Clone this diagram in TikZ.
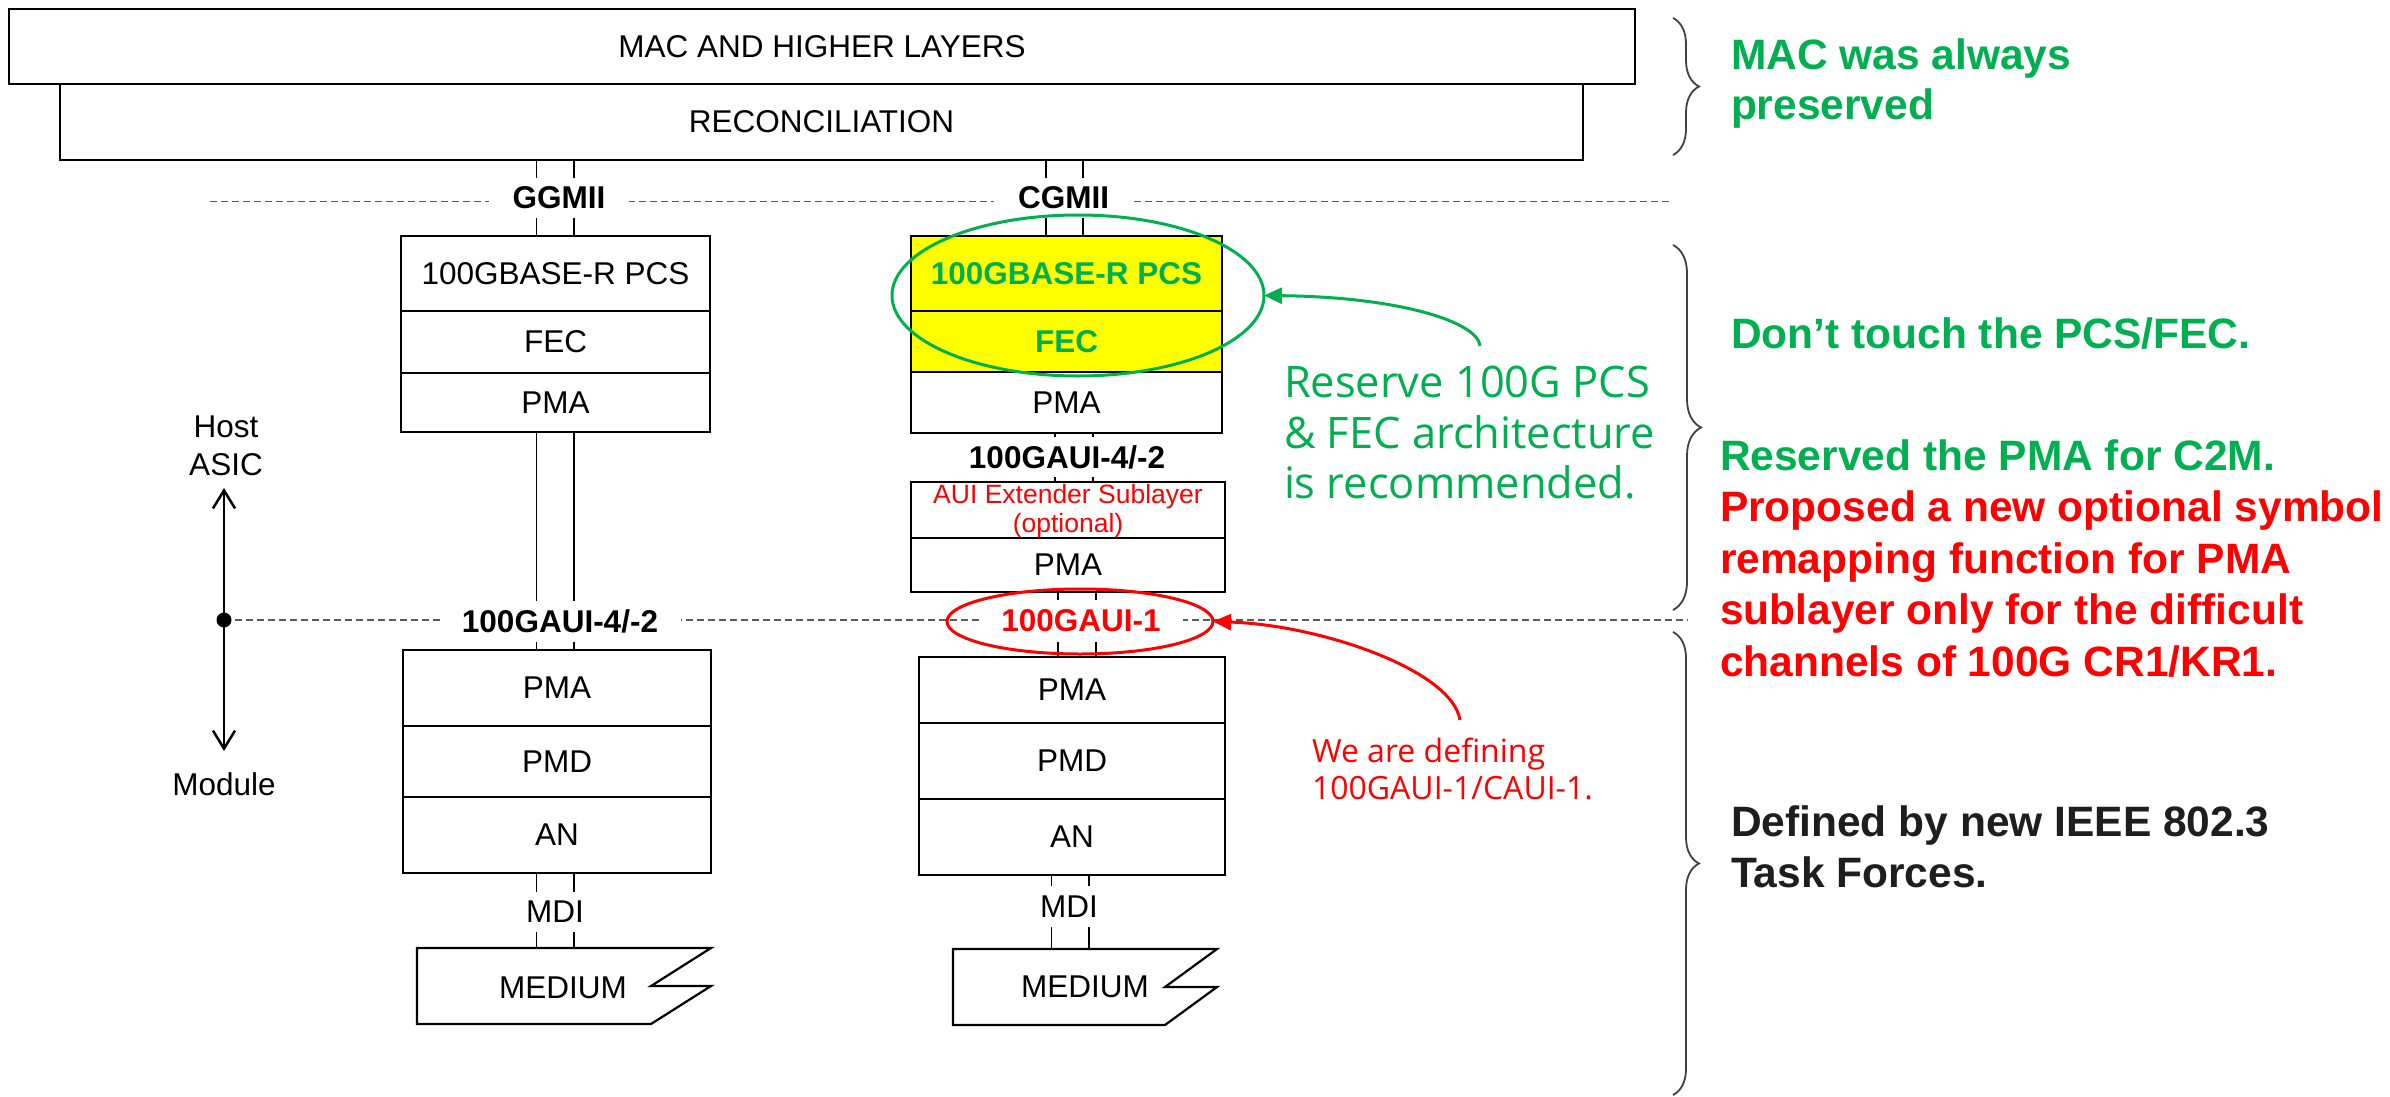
\documentclass[tikz,border=0pt]{standalone}
\usepackage{fontspec}
\setmainfont{Liberation Sans}
\newfontfamily\segfont{Open Sans}
\usetikzlibrary{shapes.geometric,arrows.meta,decorations.pathreplacing}
\definecolor{okgreen}{HTML}{00B050}
\definecolor{okred}{HTML}{FF0000}
\definecolor{hilite}{HTML}{FFFF00}
\definecolor{dashgray}{HTML}{5A5A5A}
\definecolor{bracegray}{HTML}{404040}
\definecolor{darktext}{HTML}{1E1E1E}
\newcommand{\lyrfont}{\fontsize{31.5}{36}\selectfont}
\newcommand{\auifont}{\fontsize{26.5}{30}\selectfont}
\newcommand{\annfont}{\segfont\fontsize{43.4}{50}\selectfont}
\newcommand{\redannfont}{\segfont\fontsize{32}{37}\selectfont}
\newcommand{\sidefont}{\fontsize{42.5}{51}\selectfont\bfseries}
\begin{document}
\begin{tikzpicture}[x=1pt,y=-1pt,
  every node/.style={inner sep=0pt, outer sep=0pt},
  layer/.style={draw=black, line width=2.2pt, fill=white, font=\lyrfont},
  hlayer/.style={layer, fill=hilite, text=okgreen, font=\lyrfont\bfseries},
  ifc/.style={fill=white, font=\lyrfont\bfseries},
  ifcreg/.style={fill=white, font=\lyrfont},
  conn/.style={line width=1.8pt, black},
  dashline/.style={line width=1.5pt, dashgray, dash pattern=on 7pt off 4pt},
  medium/.style={line width=2.2pt, fill=white, line join=miter},
  sidetext/.style={font=\sidefont, anchor=base west},
  sidebrace/.style={bracegray, line width=1.8pt, decorate},
  callout/.style={line width=3pt, -{Triangle[length=18pt,width=16pt]}}
]
\useasboundingbox (0,0) rectangle (2390,1097);
\fill[white] (0,0) rectangle (2390,1097);

% interface levels
\coordinate (ifaA) at (210,201.5);
\coordinate (ifaB) at (1672,201.5);
\coordinate (hdot) at (224,620);
\coordinate (ifbB) at (1688,620);
\draw[dashline] (ifaA) -- (ifaB);
\draw[dashline] (hdot) -- (ifbB);

% x positions of the paired service lines
\coordinate (lxa) at (536.5,0);
\coordinate (lxb) at (574,0);
\coordinate (rxa) at (1046,0);
\coordinate (rxb) at (1083,0);
\coordinate (rxc) at (1055,0);
\coordinate (rxd) at (1093,0);
\coordinate (rxe) at (1058,0);
\coordinate (rxf) at (1096,0);
\coordinate (rxg) at (1051.5,0);
\coordinate (rxh) at (1089,0);
\coordinate (lmedtop) at (563,948);
\coordinate (rmedtop) at (1085,949);

% top layers
\node[layer, minimum width=1626pt, minimum height=75pt] (mac) at (822,46.5) {MAC AND HIGHER LAYERS};
\node[layer, minimum width=1523pt, minimum height=76pt] (recon) at (821.5,122) {RECONCILIATION};

% service lines
\draw[conn] (lxa |- recon.south) -- (lxa |- lmedtop);
\draw[conn] (lxb |- recon.south) -- (lxb |- lmedtop);

% left stack
\node[layer, minimum width=309pt, minimum height=75pt] (lpcs) at (555.5,273.5) {100GBASE-R PCS};
\node[layer, minimum width=309pt, minimum height=62pt] (lfec) at (555.5,342) {FEC};
\node[layer, minimum width=309pt, minimum height=59pt] (lpma) at (555.5,402.5) {PMA};
\node[layer, minimum width=308pt, minimum height=76pt] (lpma2) at (557,688) {PMA};
\node[layer, minimum width=308pt, minimum height=71pt] (lpmd) at (557,761.5) {PMD};
\node[layer, minimum width=308pt, minimum height=76pt] (lan) at (557,835) {AN};
\draw[medium] (417,948) -- (711,948) -- (651,986) -- (711,986) -- (651,1024) -- (417,1024) -- cycle;
\node[font=\lyrfont] (lmed) at (563,988) {MEDIUM};

% right stack
\node[hlayer, minimum width=311pt, minimum height=75pt] (rpcs) at (1066.5,273.5) {100GBASE-R PCS};
\node[hlayer, minimum width=311pt, minimum height=61pt] (rfec) at (1066.5,341.5) {FEC};
\node[layer, minimum width=311pt, minimum height=61pt] (rpma) at (1066.5,402.5) {PMA};
\node[layer, minimum width=314pt, minimum height=56pt] (aui) at (1068,510) {};
\node[layer, minimum width=314pt, minimum height=54pt] (apma) at (1068,565) {PMA};
\node[font=\auifont, text=okred, anchor=base] (auia) at (1068,503) {AUI Extender Sublayer};
\node[font=\auifont, text=okred, anchor=base] (auib) at (1068,532) {(optional)};
\node[layer, minimum width=306pt, minimum height=66pt] (rpma2) at (1072,690) {PMA};
\node[layer, minimum width=306pt, minimum height=76pt] (rpmd) at (1072,761) {PMD};
\node[layer, minimum width=306pt, minimum height=76pt] (ran) at (1072,837) {AN};
\draw[medium] (953,949) -- (1217,949) -- (1165,987) -- (1217,987) -- (1165,1025) -- (953,1025) -- cycle;
\node[font=\lyrfont] (rmed) at (1085,987) {MEDIUM};

\draw[conn] (rxa |- recon.south) -- (rxa |- rpcs.north);
\draw[conn] (rxb |- recon.south) -- (rxb |- rpcs.north);
\draw[conn] (rxc |- rpma.south) -- (rxc |- aui.north);
\draw[conn] (rxd |- rpma.south) -- (rxd |- aui.north);
\draw[conn] (rxe |- apma.south) -- (rxe |- rpma2.north);
\draw[conn] (rxf |- apma.south) -- (rxf |- rpma2.north);
\draw[conn] (rxg |- ran.south) -- (rxg |- rmedtop);
\draw[conn] (rxh |- ran.south) -- (rxh |- rmedtop);

% interface labels
\node[ifc, minimum width=140pt, minimum height=40pt] (ggmii) at (559,198) {GGMII};
\node[ifc, minimum width=140pt, minimum height=40pt] (cgmii) at (1063.5,197.5) {CGMII};
\node[ifc, minimum width=241pt, minimum height=41pt] (lcaui) at (560,621.5) {100GAUI-4/-2};
\node[ifc, minimum width=216pt, minimum height=40pt] (rcaui) at (1067,457) {100GAUI-4/-2};
\node[ifc, text=okred, minimum width=204pt, minimum height=42pt] (caui1) at (1081,620.5) {100GAUI-1};
\node[ifcreg, minimum width=70pt, minimum height=40pt] (lmdi) at (555,911.5) {MDI};
\node[ifcreg, minimum width=70pt, minimum height=41pt] (rmdi) at (1069,906.5) {MDI};

% host / module marker
\node[font=\lyrfont, anchor=base] (host) at (226,437) {Host};
\node[font=\lyrfont, anchor=base] (asic) at (226,475) {ASIC};
\node[font=\lyrfont, anchor=base] (module) at (224,795) {Module};
\coordinate (uptip) at (224,488);
\coordinate (downtip) at (224,751);
\draw[line width=2.5pt, -{Straight Barb[length=18pt,width=22pt]}] (hdot) -- (uptip);
\draw[line width=2.5pt, -{Straight Barb[length=18pt,width=22pt]}] (hdot) -- (downtip);
\fill (hdot) circle (7.5pt);

% highlights
\node[ellipse, draw=okgreen, line width=3pt, minimum width=372pt, minimum height=161pt] (gell) at (1078,295.5) {};
\node[ellipse, draw=okred, line width=3pt, minimum width=266pt, minimum height=65pt] (rell) at (1080,621.5) {};

% callouts
\node[font=\annfont, text=okgreen, anchor=base west] (anna) at (1284,397) {Reserve 100G PCS};
\node[font=\annfont, text=okgreen, anchor=base west] (annb) at (1284,448) {\& FEC architecture};
\node[font=\annfont, text=okgreen, anchor=base west] (annc) at (1284,498) {is recommended.};
\coordinate (gstart) at (1480,346);
\draw[callout, okgreen] (gstart) .. controls (1478,322) and (1400,297) .. (gell.east);

\node[font=\redannfont, text=okred, anchor=base west] (defa) at (1312,762) {We are defining};
\node[font=\redannfont, text=okred, anchor=base west] (defb) at (1312,799) {100GAUI-1/CAUI-1.};
\coordinate (rstart) at (1460,720);
\draw[callout, okred] (rstart) .. controls (1452,670) and (1320,625) .. (rell.east);

% braces and side notes
\draw[sidebrace, decoration={brace, amplitude=26pt}] (1673,18) -- (1673,155);
\draw[sidebrace, decoration={brace, amplitude=28pt}] (1673,245) -- (1673,610);
\draw[sidebrace, decoration={brace, amplitude=26pt}] (1673,632) -- (1673,1095);

\node[sidetext, text=okgreen] (sa) at (1731,70) {MAC was always};
\node[sidetext, text=okgreen] (sb) at (1731,120) {preserved};
\node[sidetext, text=okgreen] (sc) at (1731,348) {Don’t touch the PCS/FEC.};
\node[sidetext, text=okgreen] (sd) at (1720,470) {Reserved the PMA for C2M.};
\node[sidetext, text=okred] (se) at (1720,521.5) {Proposed a new optional symbol};
\node[sidetext, text=okred] (sf) at (1720,573) {remapping function for PMA};
\node[sidetext, text=okred] (sg) at (1720,624.5) {sublayer only for the difficult};
\node[sidetext, text=okred] (sh) at (1720,676) {channels of 100G CR1/KR1.};
\node[sidetext, text=darktext] (si) at (1731,836) {Defined by new IEEE 802.3};
\node[sidetext, text=darktext] (sj) at (1731,887) {Task Forces.};
\end{tikzpicture}
\end{document}
